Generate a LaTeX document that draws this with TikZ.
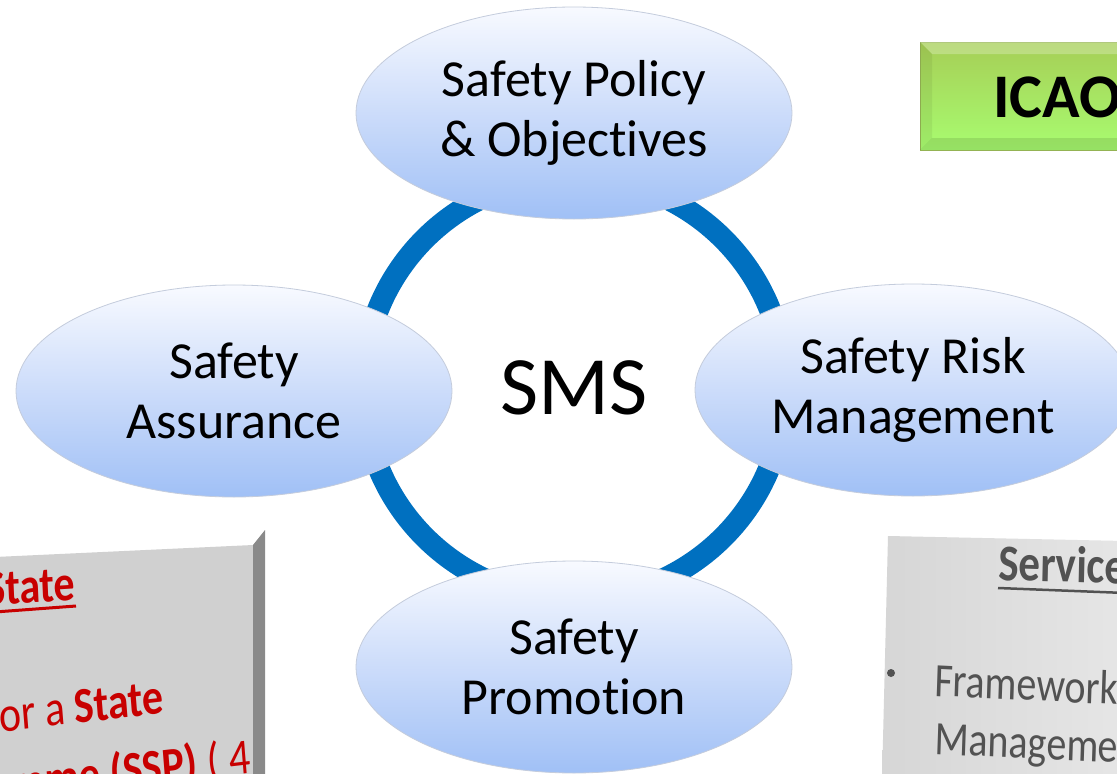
\documentclass[tikz,border=0pt]{standalone}
\usepackage{fontspec}
\setmainfont{Carlito}[Ligatures={NoCommon,NoContextual}, RawFeature={-liga;-calt;-dlig}]
\usetikzlibrary{shapes.geometric,calc}

\definecolor{ringblue}{RGB}{0,112,192}
\definecolor{petaltop}{RGB}{248,250,255}
\definecolor{petalmid}{RGB}{204,220,250}
\definecolor{petalbot}{RGB}{160,192,246}
\definecolor{petalrim}{RGB}{196,204,220}
\definecolor{statered}{RGB}{200,0,0}
\definecolor{panelgray}{RGB}{208,208,208}
\definecolor{panelside}{RGB}{138,138,138}
\definecolor{svcleft}{RGB}{214,214,214}
\definecolor{svcright}{RGB}{230,230,230}
\definecolor{svctext}{RGB}{82,82,82}
\definecolor{icaotop}{RGB}{166,206,86}
\definecolor{icaobot}{RGB}{168,252,112}
\definecolor{icaorim}{RGB}{150,182,84}

\tikzset{
  petal/.style={ellipse, minimum width=436pt, minimum height=212pt, inner sep=0pt,
    draw=petalrim, line width=0.8pt, top color=petaltop, bottom color=petalbot,
    middle color=petalmid, align=center, text=black,
    font=\fontsize{52}{60}\selectfont},
  redtext/.style={text=statered, inner sep=0pt, yscale=1.2, font=\fontsize{42}{50}\selectfont},
  svctxt/.style={text=svctext, inner sep=0pt, yscale=1.2, font=\fontsize{40}{48}\selectfont},
}

\begin{document}
\begin{tikzpicture}[x=1pt,y=-1pt]
\useasboundingbox (0,0) rectangle (1117,774);
\clip (0,0) rectangle (1117,774);
\fill[white] (0,0) rectangle (1117,774);

% ---- State panel (lower left) ----
\fill[panelgray] (-5,557) -- (253,545) -- (253,780) -- (-5,780) -- cycle;
\fill[panelside] (253,545) -- (265,530) -- (265,780) -- (253,780) -- cycle;
\node[redtext, anchor=base east, rotate=3, font=\fontsize{42}{50}\selectfont\bfseries] (sthead) at (76,600) {State};
\draw[statered, line width=3pt] ($(sthead.base west)+(0,7)$) -- ($(sthead.base east)+(0,6)$);
\node[redtext, anchor=base east, rotate=5.5] (stline1) at (165,713) {for a \textbf{State}};
\node[redtext, anchor=base east, rotate=5.5] (stline2) at (252,773) {\textbf{Programme (SSP)} ( 4};

% ---- Service provider panel (lower right) ----
\shade[left color=svcleft, right color=svcright] (888,536) -- (1125,541) -- (1125,780) -- (882,780) -- cycle;
\node[svctxt, anchor=base west, rotate=-1.5, font=\fontsize{43}{50}\selectfont\bfseries] (svhead) at (998,580) {Service};
\draw[svctext, line width=2.5pt] ($(svhead.base west)+(0,8)$) -- ($(svhead.base east)+(0,9)$);
\fill[svctext] (891,673) circle[radius=4pt];
\node[svctxt, anchor=base west, rotate=-2.3] (svline1) at (934,696) {Framework};
\node[svctxt, anchor=base west, rotate=-2.3] (svline2) at (934,754) {Management};

% ---- ICAO banner (upper right) ----
\shade[top color=icaotop, bottom color=icaobot, draw=icaorim, line width=0.8pt]
  (920,42) rectangle (1130,150);
\fill[white, opacity=0.25] (920,42) -- (1130,42) -- (1130,54) -- (932,54) -- cycle;
\fill[black, opacity=0.06] (920,42) -- (932,54) -- (932,138) -- (920,150) -- cycle;
\fill[black, opacity=0.10] (920,150) -- (932,138) -- (1130,138) -- (1130,150) -- cycle;
\node[anchor=base west, inner sep=0pt, font=\fontsize{62}{70}\selectfont\bfseries] (icao) at (993,117) {ICAO};

% ---- SMS cycle ----
\node[font=\fontsize{83}{90}\selectfont, inner sep=0pt] (sms) at (574,388) {SMS};
\draw[ringblue, line width=22pt] (sms.center) circle[radius=211pt];

\node[petal] (policy) at (574,113) {Safety Policy\\\& Objectives};
\node[petal] (assure) at (234,391) {Safety\\Assurance};
\node[petal] (risk) at (913,390) {Safety Risk\\Management};
\node[petal] (promo) at (574,667) {Safety\\Promotion};
\end{tikzpicture}
\end{document}
